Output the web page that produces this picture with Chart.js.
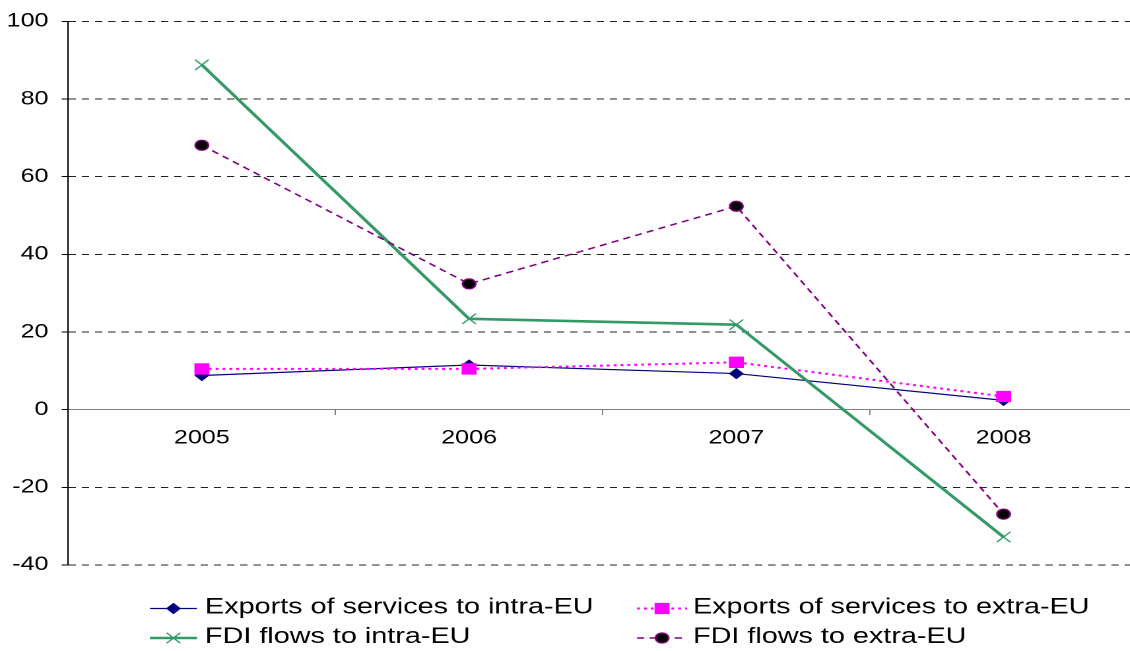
<!DOCTYPE html>
<html>
<head>
<meta charset="utf-8">
<script src="https://cdn.jsdelivr.net/npm/chart.js@4/dist/chart.umd.min.js"></script>
<style>
  html, body { margin: 0; padding: 0; background: #fff; }
  #frame { width: 1130px; height: 651px; overflow: hidden; position: relative; }
  /* the whole drawing is widened horizontally */
  #stretch { transform: scaleX(1.32); transform-origin: 0 0; width: 870px; height: 651px; }
  canvas { display: block; }
</style>
</head>
<body>
<div id="frame"><div id="stretch"><canvas id="chart" width="870" height="651"></canvas></div></div>
<script>
// Years on the category axis
const years = ['2005', '2006', '2007', '2008'];

// Growth rates (%) per series
const exportsIntraEU = [8.8, 11.5, 9.3, 2.4];
const exportsExtraEU = [10.5, 10.5, 12.2, 3.4];
const fdiIntraEU = [88.8, 23.4, 21.9, -32.8];
const fdiExtraEU = [68.1, 32.4, 52.4, -26.9];

// Value axis range and step
const yMin = -40;
const yMax = 100;
const yStep = 20;

const seriesNames = [
  'Exports of services to intra-EU',
  'Exports of services to extra-EU',
  'FDI flows to intra-EU',
  'FDI flows to extra-EU'
];

const FONT = '"Liberation Sans", Arial, sans-serif';

// Two-column legend drawn under the plot, each entry a line sample with its marker
const legendLayout = {
  lineStart: [113.6, 482.6],
  lineEnd: [149.2, 520.5],
  textX: [155.3, 525.0],
  rowY: [607.5, 637]
};

const lineLegend = {
  id: 'lineLegend',
  afterDraw(chart) {
    const ctx = chart.ctx;
    chart.data.datasets.forEach((ds, i) => {
      const col = i % 2, row = Math.floor(i / 2);
      const y = legendLayout.rowY[row];
      const x0 = legendLayout.lineStart[col], x1 = legendLayout.lineEnd[col];
      ctx.save();
      ctx.strokeStyle = ds.borderColor;
      ctx.lineWidth = ds.borderWidth;
      ctx.setLineDash(ds.borderDash || []);
      ctx.beginPath();
      ctx.moveTo(x0, y + 1);
      ctx.lineTo(x1, y + 1);
      ctx.stroke();
      ctx.setLineDash([]);
      ctx.fillStyle = ds.pointBackgroundColor;
      ctx.strokeStyle = ds.pointBorderColor;
      ctx.lineWidth = ds.pointBorderWidth;
      Chart.helpers.drawPoint(ctx, {
        pointStyle: ds.pointStyle,
        radius: ds.pointRadius,
        borderWidth: ds.pointBorderWidth,
        rotation: 0
      }, (x0 + x1) / 2, y + 1);
      ctx.fillStyle = '#000';
      ctx.font = '21.8px ' + FONT;
      ctx.textBaseline = 'middle';
      ctx.textAlign = 'left';
      ctx.fillText(seriesNames[i], legendLayout.textX[col], y);
      ctx.restore();
    });
  }
};

new Chart(document.getElementById('chart'), {
  type: 'line',
  data: {
    labels: years,
    datasets: [
      {
        label: seriesNames[0],
        data: exportsIntraEU,
        borderColor: '#000080',
        borderWidth: 1.2,
        pointStyle: 'rectRot',
        pointRadius: 5,
        pointHoverRadius: 5,
        pointBackgroundColor: '#000080',
        pointBorderColor: '#000080',
        pointBorderWidth: 1,
        order: 4
      },
      {
        label: seriesNames[1],
        data: exportsExtraEU,
        borderColor: '#FF00FF',
        borderWidth: 2,
        borderDash: [2.2, 3],
        pointStyle: 'rect',
        pointRadius: 7.3,
        pointHoverRadius: 7.3,
        pointBackgroundColor: '#FF00FF',
        pointBorderColor: '#FF00FF',
        pointBorderWidth: 1,
        order: 3
      },
      {
        label: seriesNames[2],
        data: fdiIntraEU,
        borderColor: '#339966',
        borderWidth: 2.6,
        pointStyle: 'crossRot',
        pointRadius: 7.3,
        pointHoverRadius: 7.3,
        pointBackgroundColor: '#339966',
        pointBorderColor: '#339966',
        pointBorderWidth: 1.2,
        order: 2
      },
      {
        label: seriesNames[3],
        data: fdiExtraEU,
        borderColor: '#800080',
        borderWidth: 1.5,
        borderDash: [5.5, 4],
        pointStyle: 'circle',
        pointRadius: 5,
        pointHoverRadius: 5,
        pointBackgroundColor: '#000000',
        pointBorderColor: '#800080',
        pointBorderWidth: 1.3,
        order: 1
      }
    ]
  },
  options: {
    responsive: false,
    animation: false,
    devicePixelRatio: 2,
    events: [],
    layout: { padding: { top: 21, right: 7, bottom: 86, left: 0 } },
    elements: { line: { tension: 0 } },
    plugins: {
      legend: { display: false },
      tooltip: { enabled: false }
    },
    scales: {
      x: {
        type: 'category',
        position: { y: 0 },
        offset: true,
        border: { display: true, color: '#808080', width: 1 },
        grid: {
          offset: true,
          drawOnChartArea: false,
          drawTicks: true,
          tickLength: 5,
          tickColor: '#808080',
          tickWidth: 1
        },
        ticks: {
          color: '#000',
          padding: 12,
          maxRotation: 0,
          autoSkip: false,
          font: { family: FONT, size: 19 }
        }
      },
      y: {
        min: yMin,
        max: yMax,
        afterFit(scale) { scale.width = 51.7; },
        border: { display: true, color: '#000', width: 1, dash: [5.5, 4.5] },
        grid: {
          color: (c) => (c.tick && c.tick.value === 0) ? 'rgba(0,0,0,0)' : '#222',
          lineWidth: 1,
          drawTicks: true,
          tickLength: 5,
          tickColor: '#000',
          tickBorderDash: []
        },
        ticks: {
          stepSize: yStep,
          color: '#000',
          padding: 10,
          font: { family: FONT, size: 19 }
        }
      }
    }
  },
  plugins: [lineLegend]
});
</script>
</body>
</html>
